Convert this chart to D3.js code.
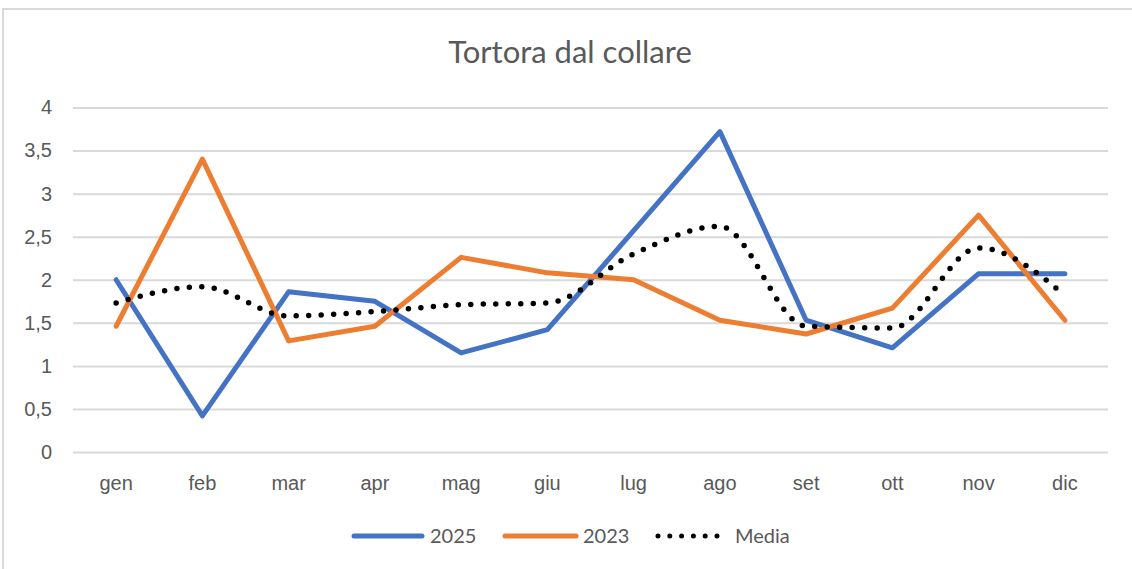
<!DOCTYPE html>
<html>
<head>
<meta charset="utf-8">
<script src="https://cdn.jsdelivr.net/npm/d3@7"></script>
<style>
  html, body { margin: 0; padding: 0; background: #fff; }
  svg { display: block; font-family: Lato, "Open Sans", sans-serif; }
</style>
</head>
<body>
<div id="chart"></div>
<script>
// ////////////////////////////////////////////////////////////////////////////
// DATA
// ////////////////////////////////////////////////////////////////////////////
const months = ['gen', 'feb', 'mar', 'apr', 'mag', 'giu', 'lug', 'ago', 'set', 'ott', 'nov', 'dic'];
const values2025 = [2.0, 0.42, 1.86, 1.75, 1.15, 1.42, 2.57, 3.72, 1.53, 1.21, 2.07, 2.07];
const values2023 = [1.46, 3.4, 1.29, 1.46, 2.26, 2.08, 2.0, 1.53, 1.37, 1.67, 2.75, 1.53];
const valuesMedia = [1.73, 1.92, 1.58, 1.63, 1.71, 1.73, 2.3, 2.62, 1.46, 1.44, 2.37, 1.82];
const yTicks = [0, 0.5, 1, 1.5, 2, 2.5, 3, 3.5, 4];

const series = [
  { name: '2025', values: values2025, color: '#4472c4', dotted: false },
  { name: '2023', values: values2023, color: '#ed7d31', dotted: false },
  { name: 'Media', values: valuesMedia, color: '#000000', dotted: true },
];

// ////////////////////////////////////////////////////////////////////////////
// SETUP
// ////////////////////////////////////////////////////////////////////////////
const W = 1132;
const H = 569;
const margin = { top: 107.5, right: 24, bottom: 117, left: 73 };

const svg = d3.select('#chart').append('svg')
  .attr('width', W)
  .attr('height', H);

// chart frame (only top and left edges show in the screenshot)
svg.append('path')
  .attr('d', `M3,${H} V9 H${W}`)
  .attr('fill', 'none')
  .attr('stroke', '#d9d9d9')
  .attr('stroke-width', 2);

const x = d3.scaleBand()
  .domain(months)
  .range([margin.left, W - margin.right]);

const y = d3.scaleLinear()
  .domain([0, 4])
  .range([H - margin.bottom, margin.top]);

const xc = d => x(d) + x.bandwidth() / 2;

// ////////////////////////////////////////////////////////////////////////////
// TITLE
// ////////////////////////////////////////////////////////////////////////////
svg.append('text')
  .attr('x', 570)
  .attr('y', 63)
  .attr('text-anchor', 'middle')
  .attr('fill', '#595959')
  .style('font-size', '31px')
  .text('Tortora dal collare');

// ////////////////////////////////////////////////////////////////////////////
// GRID + AXES
// ////////////////////////////////////////////////////////////////////////////
const yAxis = svg.append('g')
  .attr('transform', `translate(${margin.left},0)`)
  .call(d3.axisLeft(y)
    .tickValues(yTicks)
    .tickSize(-(W - margin.left - margin.right))
    .tickPadding(21)
    .tickFormat(d => String(d).replace('.', ',')));

yAxis.select('.domain').remove();
yAxis.selectAll('.tick line')
  .attr('stroke', '#d9d9d9')
  .attr('stroke-width', 2);
yAxis.selectAll('.tick text')
  .attr('fill', '#595959')
  .style('font-size', '20px');

const xAxis = svg.append('g')
  .attr('transform', `translate(0,${y(0)})`)
  .call(d3.axisBottom(x).tickSize(0).tickPadding(24));

xAxis.select('.domain').remove();
xAxis.selectAll('.tick text')
  .attr('fill', '#595959')
  .style('font-size', '20px');

// ////////////////////////////////////////////////////////////////////////////
// LINES
// ////////////////////////////////////////////////////////////////////////////
const straight = d3.line()
  .x((d, i) => xc(months[i]))
  .y(d => y(d));

const smooth = d3.line()
  .x((d, i) => xc(months[i]))
  .y(d => y(d))
  .curve(d3.curveMonotoneX);

series.forEach((s) => {
  const path = svg.append('path')
    .datum(s.values)
    .attr('fill', 'none')
    .attr('stroke', s.color)
    .attr('stroke-linecap', 'round')
    .attr('stroke-linejoin', 'round');
  if (s.dotted) {
    path.attr('d', smooth)
      .attr('stroke-width', 5.5)
      .attr('stroke-dasharray', '0,12.5');
  } else {
    path.attr('d', straight)
      .attr('stroke-width', 5);
  }
});

// ////////////////////////////////////////////////////////////////////////////
// LEGEND
// ////////////////////////////////////////////////////////////////////////////
const legendItems = [
  { x0: 354, x1: 422, tx: 430 },
  { x0: 505, x1: 576, tx: 583 },
  { x0: 658, x1: 728, tx: 735 },
];

const legend = svg.append('g').attr('transform', 'translate(0,536)');

series.forEach((s, i) => {
  const li = legendItems[i];
  legend.append('line')
    .attr('x1', li.x0)
    .attr('x2', li.x1)
    .attr('y1', 0)
    .attr('y2', 0)
    .attr('stroke', s.color)
    .attr('stroke-linecap', 'round')
    .attr('stroke-width', 5)
    .attr('stroke-dasharray', s.dotted ? '0,11.8' : null);
  legend.append('text')
    .attr('x', li.tx)
    .attr('y', 7)
    .attr('fill', '#595959')
    .style('font-size', '20px')
    .text(s.name);
});
</script>
</body>
</html>
